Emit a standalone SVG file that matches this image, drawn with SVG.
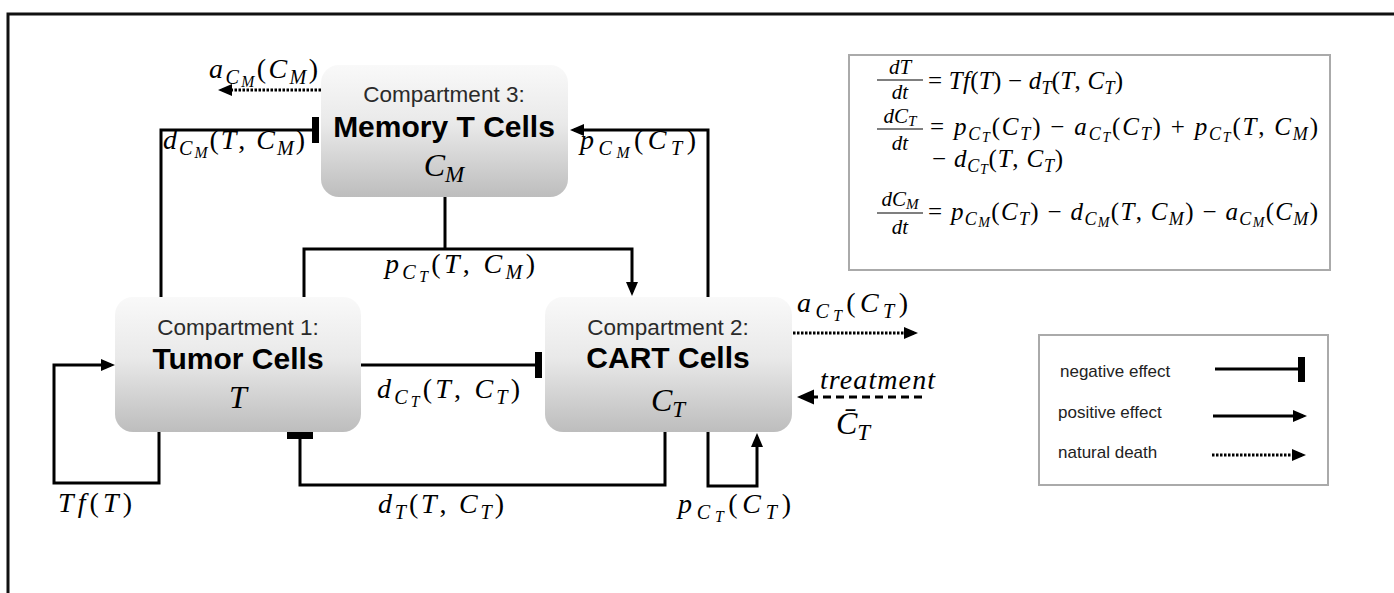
<svg xmlns="http://www.w3.org/2000/svg" width="1394" height="593" viewBox="0 0 1394 593">
<defs>
<linearGradient id="g" x1="0" y1="0" x2="0" y2="1">
<stop offset="0" stop-color="#f9f9f9"/>
<stop offset="0.45" stop-color="#e9e9e9"/>
<stop offset="1" stop-color="#bdbdbd"/>
</linearGradient>
<marker id="ah" markerUnits="userSpaceOnUse" markerWidth="16" markerHeight="14" refX="10" refY="6" orient="auto"><path d="M0,0 L14,6 L0,12 z" fill="#000"/></marker>
<marker id="ahb" markerUnits="userSpaceOnUse" markerWidth="19" markerHeight="17" refX="13" refY="7.5" orient="auto"><path d="M0,0 L17,7.5 L0,15 z" fill="#000"/></marker>
</defs>
<style>
.bx{fill:url(#g);stroke:none}
.cmp{font-family:"Liberation Sans",Arial,sans-serif;font-size:22.5px;fill:#2a2a2a;text-anchor:middle}
.ttl{font-family:"Liberation Sans",Arial,sans-serif;font-weight:bold;font-size:30px;fill:#000;text-anchor:middle}
.var{font-family:"Liberation Serif","Times New Roman",serif;font-style:italic;font-size:32px;fill:#000;text-anchor:middle}
.m{font-family:"Liberation Serif","Times New Roman",serif;font-style:italic;font-size:28px;fill:#000}
.e{font-size:25px}
.f{font-size:21px}
.r{font-style:normal}
.s{font-size:72%}
.ss{font-size:56%}
.ln{stroke:#000;stroke-width:3;fill:none}
.dot{stroke-dasharray:2.5 1.5}
.dash{stroke-dasharray:8 5}
.bar{fill:#000}
.fb{stroke:#000;stroke-width:1.2}
.pn{fill:#fff;stroke:#aaaaaa;stroke-width:2}
.lg{font-family:"Liberation Sans",Arial,sans-serif;font-size:17px;fill:#222}
</style>
<rect width="1394" height="593" fill="#fff"/>
<path d="M8,593 V14 H1394" stroke="#111" stroke-width="3" fill="none"/>

<g id="connectors">
<path class="ln" d="M161,297 V130 H313"/>
<rect class="bar" x="312" y="117" width="7" height="26"/>
<path class="ln" d="M708,297 V130 H574" marker-end="url(#ah)"/>
<path class="ln" d="M445,197 V249"/>
<path class="ln" d="M304,297 V249 H632 V292" marker-end="url(#ah)"/>
<path class="ln" d="M361,365 H536"/>
<rect class="bar" x="535" y="352" width="7" height="26"/>
<path class="ln" d="M665,432 V485 H300 V438"/>
<rect class="bar" x="287" y="432" width="26" height="7"/>
<path class="ln" d="M159,432 V483 H54 V365 H111" marker-end="url(#ah)"/>
<path class="ln" d="M708,432 V486 H757 V437" marker-end="url(#ah)"/>
<path class="ln dot" d="M793,333 H914" marker-end="url(#ah)"/>
<path class="ln dash" d="M922,397 H801" marker-end="url(#ahb)"/>
<path class="ln dot" d="M321,90 H222" marker-end="url(#ah)"/>
</g>

<g id="memory">
<rect class="bx" x="321" y="65" width="247" height="132" rx="18"/>
<text class="cmp" x="444" y="102">Compartment 3:</text>
<text class="ttl" x="444" y="137">Memory T Cells</text>
<text class="var" x="444" y="176">C<tspan class="s" dy="6">M</tspan></text>
</g>

<g id="tumor">
<rect class="bx" x="115" y="297" width="246" height="135" rx="18"/>
<text class="cmp" x="238" y="335">Compartment 1:</text>
<text class="ttl" x="238" y="369">Tumor Cells</text>
<text class="var" x="238" y="408">T</text>
</g>

<g id="cart">
<rect class="bx" x="545" y="297" width="247" height="135" rx="18"/>
<text class="cmp" x="668" y="335">Compartment 2:</text>
<text class="ttl" x="668" y="368">CART Cells</text>
<text class="var" x="668" y="411">C<tspan class="s" dy="6">T</tspan></text>
</g>

<g id="labels">
<text class="m" x="209" y="78" textLength="109">a<tspan class="s" dy="6">C</tspan><tspan class="ss" dy="3">M</tspan><tspan class="r" dy="-9">(</tspan>C<tspan class="s" dy="6">M</tspan><tspan class="r" dy="-6">)</tspan></text>
<text class="m" x="163" y="149" textLength="142">d<tspan class="s" dy="6">C</tspan><tspan class="ss" dy="3">M</tspan><tspan class="r" dy="-9">(</tspan>T<tspan class="r">, </tspan>C<tspan class="s" dy="6">M</tspan><tspan class="r" dy="-6">)</tspan></text>
<text class="m" x="580" y="149" textLength="116">p<tspan class="s" dy="6">C</tspan><tspan class="ss" dy="3">M</tspan><tspan class="r" dy="-9">(</tspan>C<tspan class="s" dy="6">T</tspan><tspan class="r" dy="-6">)</tspan></text>
<text class="m" x="385" y="273" textLength="150">p<tspan class="s" dy="6">C</tspan><tspan class="ss" dy="3">T</tspan><tspan class="r" dy="-9">(</tspan>T<tspan class="r">, </tspan>C<tspan class="s" dy="6">M</tspan><tspan class="r" dy="-6">)</tspan></text>
<text class="m" x="377" y="398" textLength="143">d<tspan class="s" dy="6">C</tspan><tspan class="ss" dy="3">T</tspan><tspan class="r" dy="-9">(</tspan>T<tspan class="r">, </tspan>C<tspan class="s" dy="6">T</tspan><tspan class="r" dy="-6">)</tspan></text>
<text class="m" x="797" y="312" textLength="111">a<tspan class="s" dy="6">C</tspan><tspan class="ss" dy="3">T</tspan><tspan class="r" dy="-9">(</tspan>C<tspan class="s" dy="6">T</tspan><tspan class="r" dy="-6">)</tspan></text>
<text class="m" x="820" y="389" textLength="115">treatment</text>
<text class="m" x="836" y="434" style="font-size:32px">C̄<tspan class="s" dy="6">T</tspan></text>
<text class="m" x="58" y="512" textLength="74">Tf<tspan class="r">(</tspan>T<tspan class="r">)</tspan></text>
<text class="m" x="378" y="513" textLength="126">d<tspan class="s" dy="6">T</tspan><tspan class="r" dy="-6">(</tspan>T<tspan class="r">, </tspan>C<tspan class="s" dy="6">T</tspan><tspan class="r" dy="-6">)</tspan></text>
<text class="m" x="678" y="513" textLength="113">p<tspan class="s" dy="6">C</tspan><tspan class="ss" dy="3">T</tspan><tspan class="r" dy="-9">(</tspan>C<tspan class="s" dy="6">T</tspan><tspan class="r" dy="-6">)</tspan></text>
</g>

<g id="equations">
<rect class="pn" x="849" y="55" width="481" height="215"/>
<text class="m f" x="900" y="74" text-anchor="middle">dT</text>
<line class="fb" x1="877" y1="80" x2="923" y2="80"/>
<text class="m f" x="900" y="99" text-anchor="middle">dt</text>
<text class="m e" x="928" y="89" textLength="195"><tspan class="r">= </tspan>Tf<tspan class="r">(</tspan>T<tspan class="r">) − </tspan>d<tspan class="s" dy="5">T</tspan><tspan class="r" dy="-5">(</tspan>T<tspan class="r">, </tspan>C<tspan class="s" dy="5">T</tspan><tspan class="r" dy="-5">)</tspan></text>
<text class="m f" x="900" y="123" text-anchor="middle">dC<tspan class="s" dy="3">T</tspan></text>
<line class="fb" x1="877" y1="129" x2="923" y2="129"/>
<text class="m f" x="900" y="150" text-anchor="middle">dt</text>
<text class="m e" x="930" y="135" textLength="388"><tspan class="r">= </tspan>p<tspan class="s" dy="5">C</tspan><tspan class="ss" dy="2">T</tspan><tspan class="r" dy="-7">(</tspan>C<tspan class="s" dy="5">T</tspan><tspan class="r" dy="-5">) − </tspan>a<tspan class="s" dy="5">C</tspan><tspan class="ss" dy="2">T</tspan><tspan class="r" dy="-7">(</tspan>C<tspan class="s" dy="5">T</tspan><tspan class="r" dy="-5">) + </tspan>p<tspan class="s" dy="5">C</tspan><tspan class="ss" dy="2">T</tspan><tspan class="r" dy="-7">(</tspan>T<tspan class="r">, </tspan>C<tspan class="s" dy="5">M</tspan><tspan class="r" dy="-5">)</tspan></text>
<text class="m e" x="932" y="167" textLength="131"><tspan class="r">− </tspan>d<tspan class="s" dy="5">C</tspan><tspan class="ss" dy="2">T</tspan><tspan class="r" dy="-7">(</tspan>T<tspan class="r">, </tspan>C<tspan class="s" dy="5">T</tspan><tspan class="r" dy="-5">)</tspan></text>
<text class="m f" x="900" y="206" text-anchor="middle">dC<tspan class="s" dy="3">M</tspan></text>
<line class="fb" x1="877" y1="213" x2="923" y2="213"/>
<text class="m f" x="900" y="234" text-anchor="middle">dt</text>
<text class="m e" x="928" y="220" textLength="390"><tspan class="r">= </tspan>p<tspan class="s" dy="5">C</tspan><tspan class="ss" dy="2">M</tspan><tspan class="r" dy="-7">(</tspan>C<tspan class="s" dy="5">T</tspan><tspan class="r" dy="-5">) − </tspan>d<tspan class="s" dy="5">C</tspan><tspan class="ss" dy="2">M</tspan><tspan class="r" dy="-7">(</tspan>T<tspan class="r">, </tspan>C<tspan class="s" dy="5">M</tspan><tspan class="r" dy="-5">) − </tspan>a<tspan class="s" dy="5">C</tspan><tspan class="ss" dy="2">M</tspan><tspan class="r" dy="-7">(</tspan>C<tspan class="s" dy="5">M</tspan><tspan class="r" dy="-5">)</tspan></text>
</g>

<g id="legend">
<rect class="pn" x="1039" y="335" width="289" height="150"/>
<text class="lg" x="1060" y="377">negative effect</text>
<line class="ln" x1="1215" y1="369" x2="1300" y2="369"/>
<rect class="bar" x="1298" y="357" width="7" height="25"/>
<text class="lg" x="1058" y="418">positive effect</text>
<path class="ln" d="M1213,416 H1303" marker-end="url(#ah)"/>
<text class="lg" x="1058" y="458">natural death</text>
<path class="ln dot" d="M1212,455 H1302" marker-end="url(#ah)"/>
</g>
</svg>
